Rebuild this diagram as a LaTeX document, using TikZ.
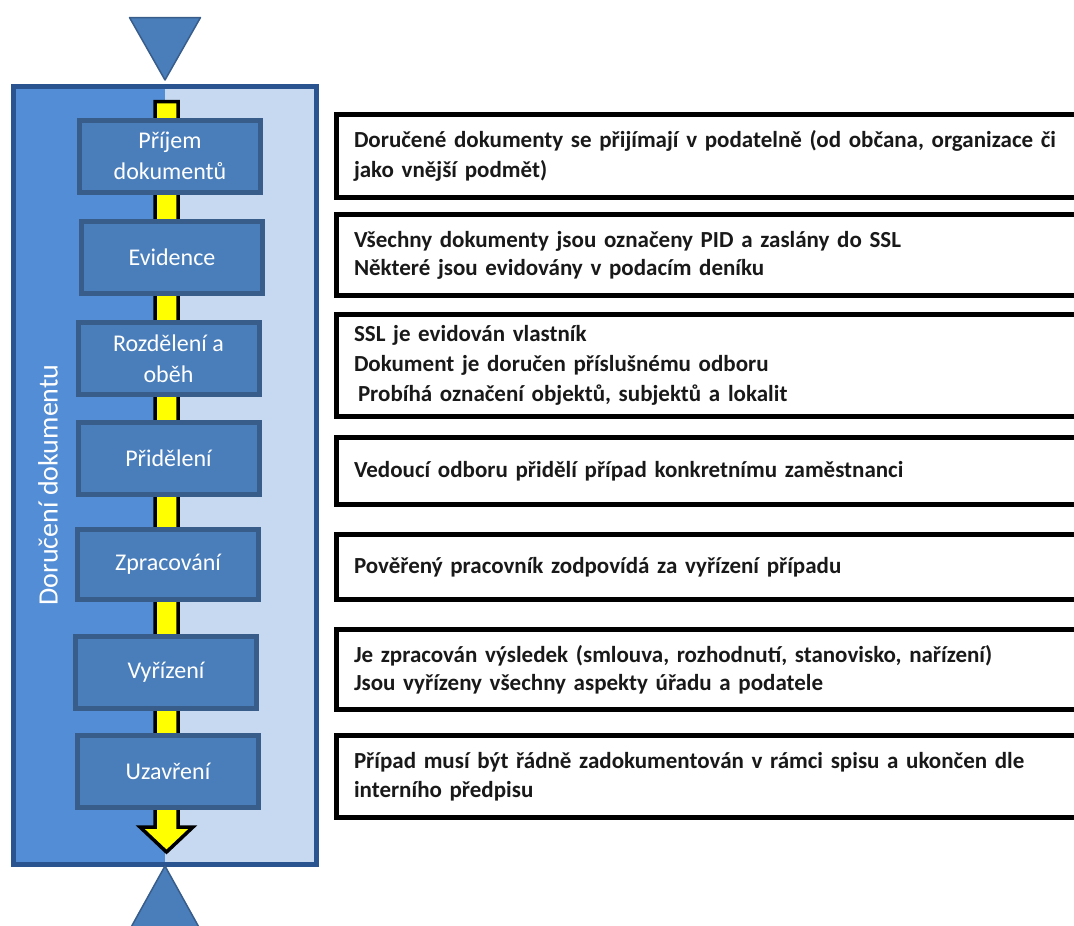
\documentclass[tikz,border=0pt]{standalone}
\usepackage{fontspec}
\setmainfont{Carlito}
\definecolor{panelL}{HTML}{538DD5}
\definecolor{panelR}{HTML}{C6D9F1}
\definecolor{panelB}{HTML}{2A5490}
\definecolor{stepF}{HTML}{4A7EBB}
\definecolor{stepB}{HTML}{385D8A}
\definecolor{arrowY}{HTML}{FFFF00}
\tikzset{
  stepbox/.style={draw=stepB, fill=stepF, line width=5pt, minimum width=181pt, minimum height=72pt,
    text=white, align=center, font=\fontsize{24}{31}\selectfont, inner sep=0pt},
  descbox/.style={draw=black, fill=white, line width=5pt, minimum width=753.5pt, text width=718.5pt,
    inner xsep=17.5pt, inner ysep=0pt, align=left, font=\bfseries\fontsize{23}{30}\selectfont, text=black!90},
  tri/.style={draw=stepB, fill=stepF, line width=1.5pt, line join=round},
  flow/.style={draw=black, fill=arrowY, line width=3.5pt, line join=miter}
}
\begin{document}
\begin{tikzpicture}[x=1pt, y=-1pt]
\useasboundingbox (0,0) rectangle (1074,926);
\begin{scope}
\clip (0,0) rectangle (1074,926);
% panel
\fill[panelL] (13.5,86.5) rectangle (165,864);
\fill[panelR] (165,86.5) rectangle (316.5,864);
\draw[panelB, line width=5pt] (13.5,86.5) rectangle (316.5,864);
\node[text=white, rotate=90, font=\fontsize{28}{30}\selectfont] (title) at (48,485) {Doručení dokumentu};
% triangles
\coordinate (tinA) at (165,80);
\coordinate (toutA) at (165,866);
\draw[tri] (129.5,17.5) -- (200.5,17.5) -- (tinA) -- cycle;
\draw[tri] (toutA) -- (200.5,930) -- (129.5,930) -- cycle;
% flow arrow
\coordinate (fstart) at (166.5,101.5);
\coordinate (ftip) at (166.5,852);
\draw[flow] (155,101.5) -- (178,101.5) -- (178,827) -- (193,827) -- (ftip) -- (140,827) -- (155,827) -- cycle;
% steps
\node[stepbox] (s1) at (170,156) {Příjem\\dokumentů};
\node[stepbox] (s2) at (172,257.5) {Evidence};
\node[stepbox] (s3) at (168.5,358.5) {Rozdělení a\\oběh};
\node[stepbox] (s4) at (168.5,458.5) {Přidělení};
\node[stepbox, minimum height=70pt] (s5) at (168,564.5) {Zpracování};
\node[stepbox] (s6) at (166,672.5) {Vyřízení};
\node[stepbox] (s7) at (168,771.5) {Uzavření};
% descriptions
\node[descbox, minimum height=83pt] (d1) at (713.25,156) {Doručené dokumenty se přijímají v podatelně (od občana, organizace či\\jako vnější podmět)};
\node[descbox, minimum height=81pt] (d2) at (713.25,255) {Všechny dokumenty jsou označeny PID a zaslány do SSL\\[-2pt]Některé jsou evidovány v podacím deníku};
\node[descbox, minimum height=102pt] (d3) at (713.25,365.5) {SSL je evidován vlastník\\Dokument je doručen příslušnému odboru\\\hspace*{4pt}Probíhá označení objektů, subjektů a lokalit};
\node[descbox, minimum height=67pt] (d4) at (713.25,471) {Vedoucí odboru přidělí případ konkretnímu zaměstnanci};
\node[descbox, minimum height=65pt] (d5) at (713.25,567) {Pověřený pracovník zodpovídá za vyřízení případu};
\node[descbox, minimum height=80pt] (d6) at (713.25,669.5) {Je zpracován výsledek (smlouva, rozhodnutí, stanovisko, nařízení)\\[-2pt]Jsou vyřízeny všechny aspekty úřadu a podatele};
\node[descbox, minimum height=82pt] (d7) at (713.25,776.5) {Případ musí být řádně zadokumentován v rámci spisu a ukončen dle\\[-1pt]interního předpisu};
\end{scope}
\end{tikzpicture}
\end{document}
